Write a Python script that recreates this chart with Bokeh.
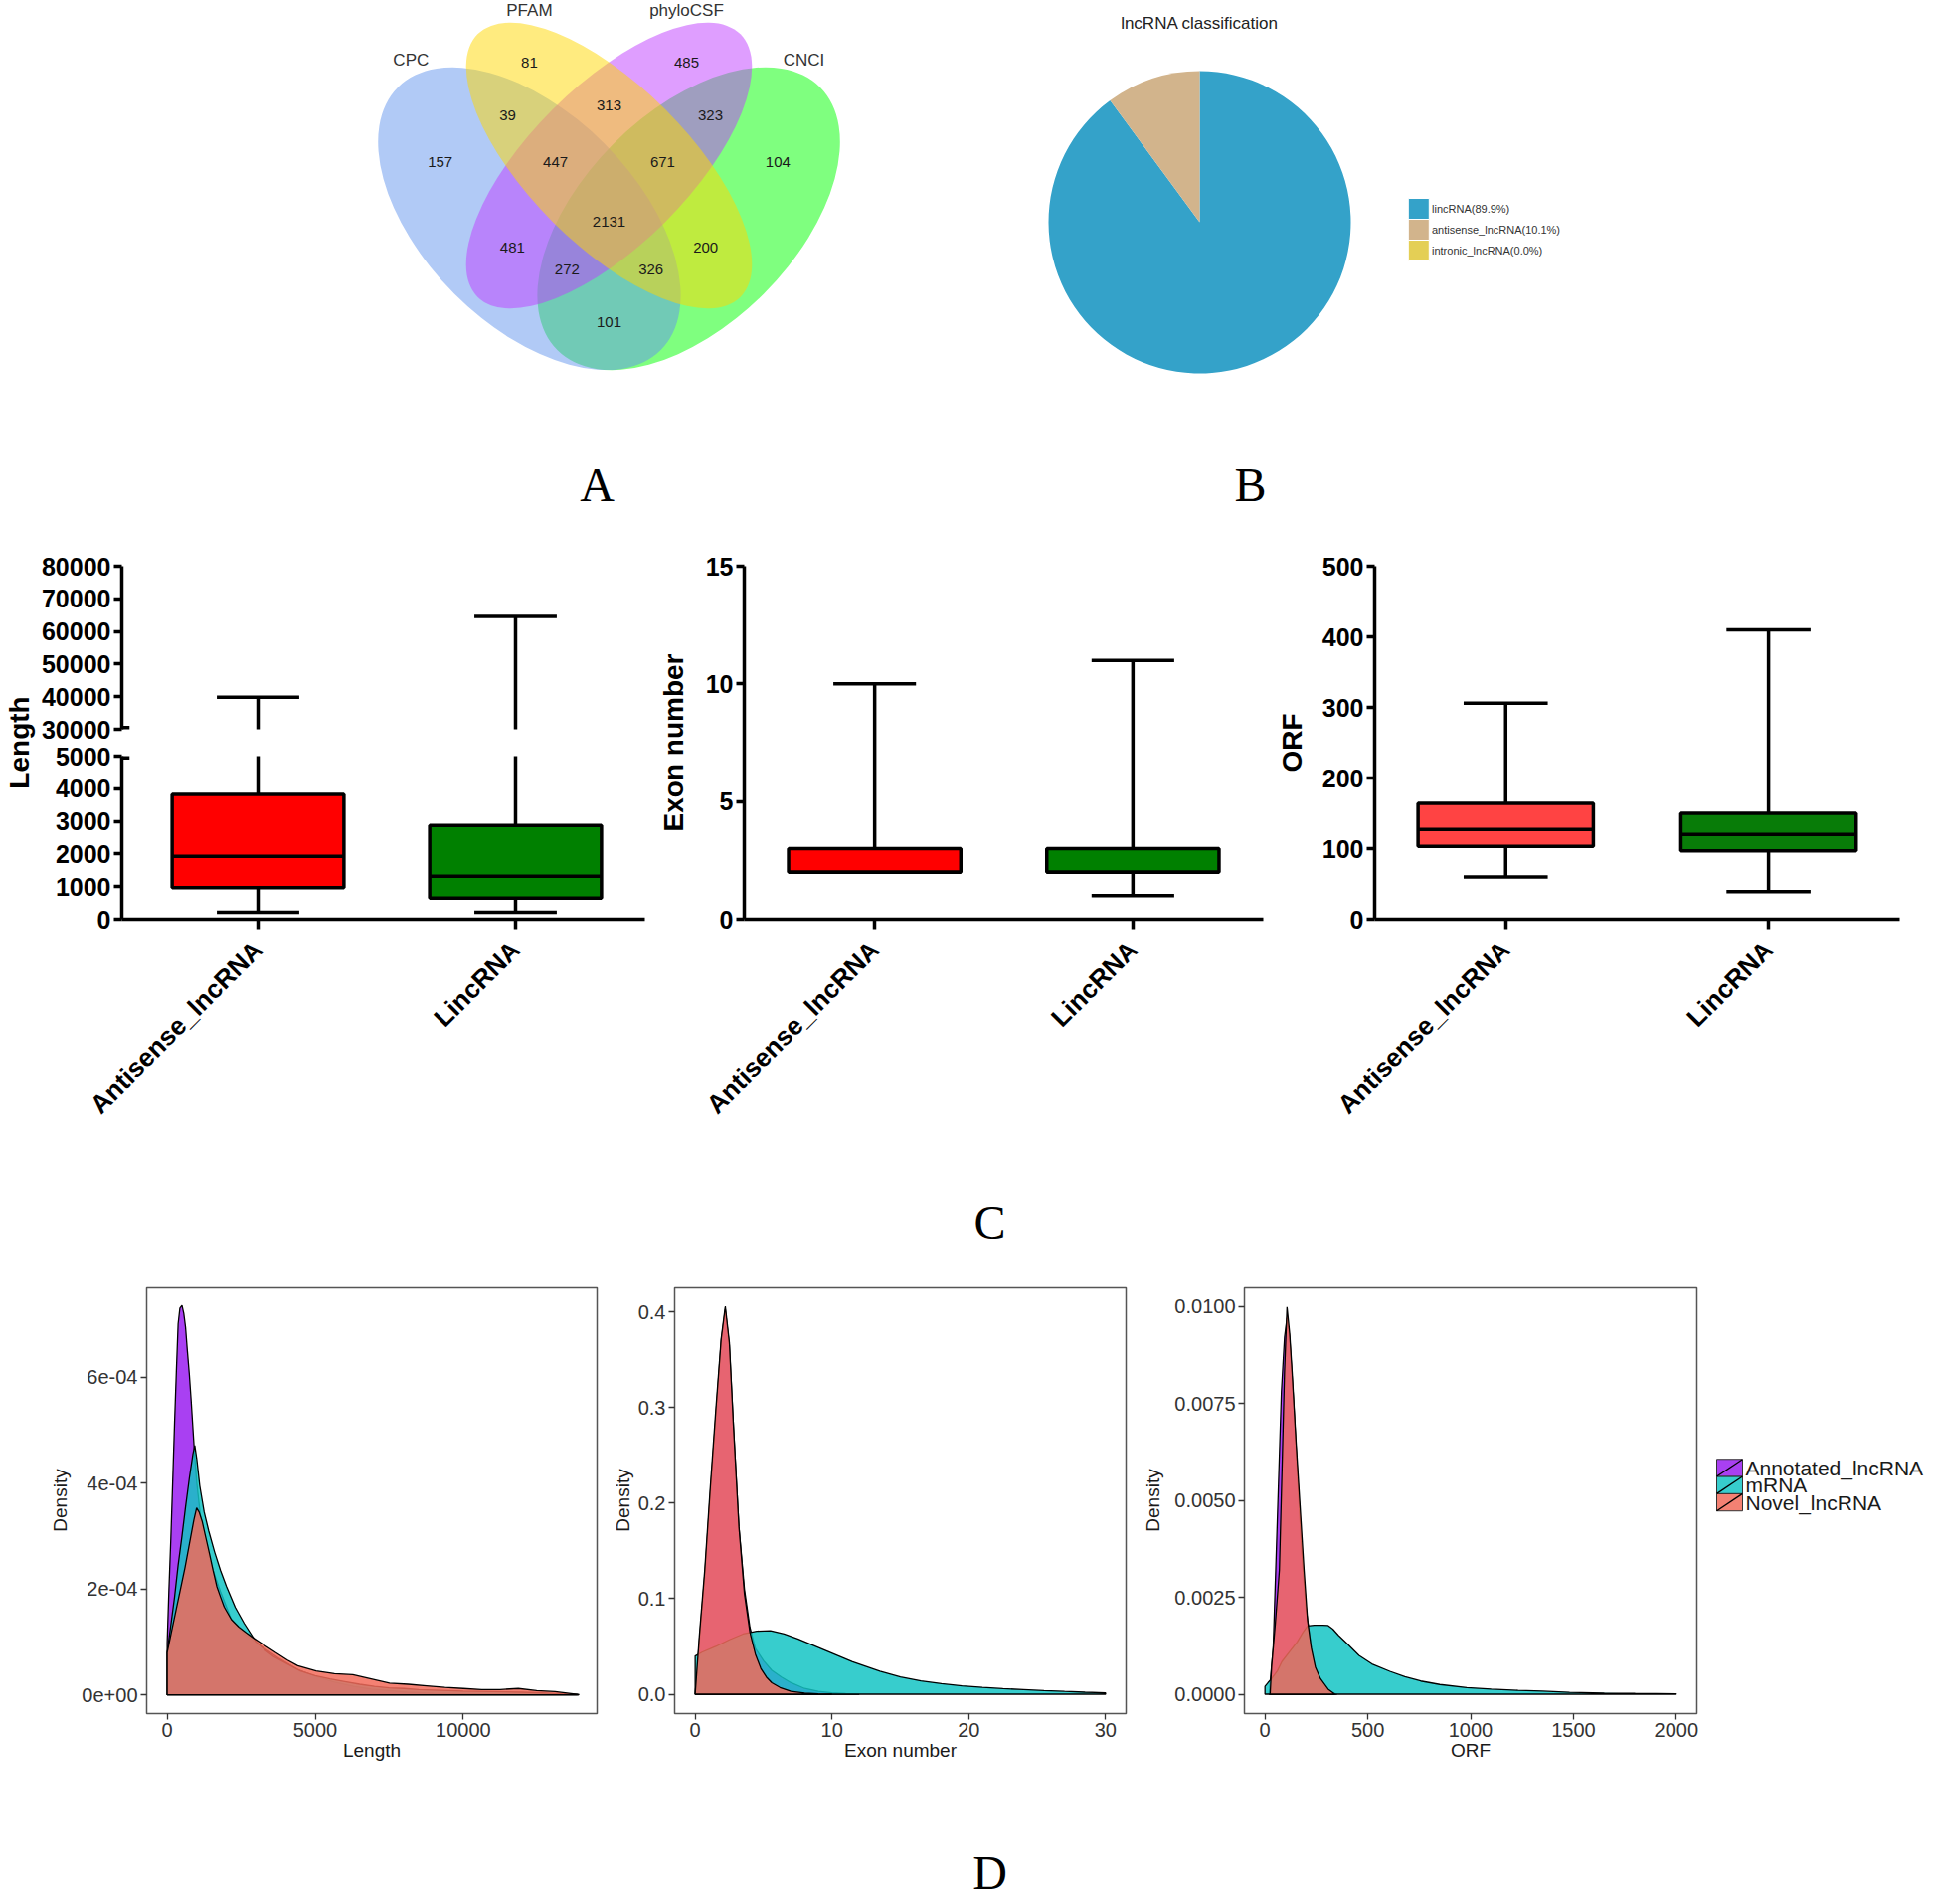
import math
import numpy as np
from bokeh.plotting import figure
from bokeh.layouts import row, column
from bokeh.models import Range1d, FixedTicker, ColumnDataSource
from bokeh.core.properties import value
from bokeh.embed import file_html
from bokeh.resources import INLINE

SANS = "Liberation Sans"
SERIF = "Liberation Serif"

# ======================= DATA =======================
# Panel A : Venn diagram
venn_sets = ["CPC", "PFAM", "phyloCSF", "CNCI"]
venn_counts = [81, 485, 39, 313, 323, 157, 447, 671, 104, 2131, 481, 200, 272, 326, 101]

# Panel B : pie
pie_labels = ["lincRNA(89.9%)", "antisense_lncRNA(10.1%)", "intronic_lncRNA(0.0%)"]
pie_values = [89.9, 10.1, 0.0]

# Panel C : box plots
box_categories = ["Antisense_lncRNA", "LincRNA"]
length_min = [210, 210]
length_q1 = [970, 645]
length_median = [1930, 1320]
length_q3 = [3830, 2875]
length_max = [39800, 64600]

exon_min = [2, 1]
exon_q1 = [2, 2]
exon_median = [2, 2]
exon_q3 = [3, 3]
exon_max = [10, 11]

orf_min = [60, 39]
orf_q1 = [103, 97]
orf_median = [127, 120]
orf_q3 = [164, 150]
orf_max = [306, 410]

# Panel D : density curves
density_groups = ["Annotated_lncRNA", "mRNA", "Novel_lncRNA"]

len_x_annot = [0, 60, 125, 185, 250, 310, 370, 430, 500, 560, 620, 680, 745, 810, 870, 930, 1000, 1100, 1180, 1300,
               1550, 1800, 2170, 2600, 3170, 3800, 4400, 5000, 5650, 6300, 6900, 7500, 8100, 9000, 10000, 11000, 12000, 13000, 13900]
len_d_annot = [0.98e-4, 2.0e-4, 2.97e-4, 4.0e-4, 5.14e-4, 6.1e-4, 7.0e-4, 7.3e-4, 7.35e-4, 7.2e-4, 6.94e-4, 6.5e-4, 6.07e-4,
               5.55e-4, 5.02e-4, 4.5e-4, 4.0e-4, 3.5e-4, 3.09e-4, 2.8e-4, 2.35e-4, 1.95e-4, 1.42e-4, 1.15e-4, 0.92e-4,
               0.68e-4, 0.48e-4, 0.35e-4, 0.24e-4, 0.16e-4, 0.11e-4, 0.08e-4, 0.05e-4, 0.03e-4, 0.02e-4, 0.01e-4, 0.01e-4, 0.005e-4, 0.0]
len_x_mrna = [0, 120, 250, 370, 500, 620, 750, 870, 932, 1000, 1100, 1250, 1400, 1600, 1800, 2000, 2300, 2600, 3000, 3300,
              3600, 4000, 4500, 5000, 5500, 6000, 6500, 7000, 7500, 8000, 8500, 9000, 10000, 11000, 12000, 12500, 13000, 13900]
len_d_mrna = [0.8e-4, 1.3e-4, 1.85e-4, 2.45e-4, 3.0e-4, 3.55e-4, 4.1e-4, 4.55e-4, 4.71e-4, 4.45e-4, 3.95e-4, 3.45e-4, 3.1e-4,
              2.7e-4, 2.35e-4, 2.05e-4, 1.65e-4, 1.35e-4, 1.0e-4, 0.85e-4, 0.72e-4, 0.6e-4, 0.45e-4, 0.36e-4, 0.3e-4,
              0.25e-4, 0.2e-4, 0.16e-4, 0.13e-4, 0.12e-4, 0.1e-4, 0.09e-4, 0.07e-4, 0.06e-4, 0.05e-4, 0.04e-4, 0.03e-4, 0.01e-4]
len_x_novel = [0, 150, 300, 450, 600, 750, 900, 994, 1080, 1180, 1300, 1430, 1550, 1680, 1800, 1925, 2170, 2420, 2670, 2920,
               3170, 3660, 4050, 4410, 5030, 5650, 6270, 6890, 7510, 8140, 8760, 9380, 10000, 10620, 11240, 11860, 12480, 13100, 13850]
len_d_novel = [0.8e-4, 1.2e-4, 1.6e-4, 2.0e-4, 2.4e-4, 2.85e-4, 3.3e-4, 3.53e-4, 3.45e-4, 3.28e-4, 2.98e-4, 2.66e-4, 2.35e-4,
               2.04e-4, 1.85e-4, 1.66e-4, 1.42e-4, 1.28e-4, 1.17e-4, 1.07e-4, 0.98e-4, 0.8e-4, 0.66e-4, 0.55e-4, 0.45e-4,
               0.4e-4, 0.38e-4, 0.3e-4, 0.22e-4, 0.2e-4, 0.17e-4, 0.14e-4, 0.12e-4, 0.1e-4, 0.1e-4, 0.12e-4, 0.08e-4, 0.06e-4, 0.01e-4]

exon_x_annot = [0, 0.3, 0.7, 1.1, 1.5, 1.9, 2.2, 2.5, 2.8, 3.2, 3.6, 4.0, 4.4, 5.0, 5.6, 6.3, 7.0, 8.0, 9.0, 10.0, 11.0, 12.0]
exon_d_annot = [0.0, 0.055, 0.125, 0.21, 0.29, 0.37, 0.403, 0.365, 0.28, 0.175, 0.11, 0.07, 0.048, 0.035, 0.025, 0.018,
                0.012, 0.006, 0.003, 0.0015, 0.0005, 0.0]
exon_x_mrna = [0, 0.5, 1.5, 2.5, 3.5, 4.5, 5.5, 6.5, 7.5, 8.5, 9.5, 10.5, 11.5, 12.5, 13.5, 15, 16.5, 18, 19.5, 21, 22.5,
               24, 25.5, 27, 28.5, 30]
exon_d_mrna = [0.04, 0.044, 0.05, 0.057, 0.063, 0.066, 0.0665, 0.063, 0.058, 0.052, 0.046, 0.04, 0.034, 0.029, 0.024,
               0.018, 0.014, 0.011, 0.0088, 0.0072, 0.0058, 0.0048, 0.0038, 0.0029, 0.0021, 0.0014]
exon_x_novel = [0, 0.3, 0.7, 1.1, 1.5, 1.9, 2.2, 2.5, 2.8, 3.2, 3.6, 4.0, 4.4, 4.8, 5.2, 5.6, 6.2, 7.0, 8.0, 9.0, 10.0]
exon_d_novel = [0.0, 0.06, 0.13, 0.216, 0.296, 0.372, 0.406, 0.368, 0.28, 0.175, 0.105, 0.065, 0.042, 0.027, 0.018,
                0.012, 0.007, 0.003, 0.0012, 0.0004, 0.0]

orf_x_annot = [20, 40, 60, 80, 95, 107, 120, 140, 160, 180, 200, 230, 260, 300, 350]
orf_d_annot = [0, 0.0012, 0.0045, 0.0078, 0.0092, 0.0097, 0.0092, 0.0075, 0.0055, 0.0036, 0.0022, 0.001, 0.0004, 0.0001, 0]
orf_x_mrna = [0, 15, 32, 60, 82, 120, 157, 185, 207, 240, 280, 307, 330, 357, 400, 457, 520, 607, 680, 757, 850, 981,
              1100, 1231, 1350, 1481, 1650, 1800, 2000]
orf_d_mrna = [0.0002, 0.0003, 0.0004, 0.0006, 0.00084, 0.0011, 0.00135, 0.0016, 0.00176, 0.00178, 0.00178, 0.00177,
              0.00168, 0.00152, 0.0013, 0.001, 0.00078, 0.00059, 0.00045, 0.00034, 0.00025, 0.00017, 0.00013, 0.0001,
              0.00008, 0.00005, 0.00003, 0.00002, 0.00001]
orf_x_novel = [25, 32, 50, 70, 85, 95, 107, 120, 132, 150, 170, 190, 207, 225, 245, 270, 307, 340]
orf_d_novel = [0, 0.0007, 0.0018, 0.0032, 0.0062, 0.0083, 0.00998, 0.0093, 0.0083, 0.0066, 0.0049, 0.0032, 0.0019,
               0.0012, 0.0007, 0.0004, 0.00013, 0]

# ======================= STYLE / GEOMETRY =======================
# ellipse drawing order: CNCI, CPC, phyloCSF, PFAM
venn_draw_order = [3, 0, 2, 1]
venn_colors = ["#6495ed", "#ffd700", "#bf3eff", "#00ff00"]
venn_cx = [0.35, 0.5, 0.5, 0.65]
venn_cy = [0.47, 0.57, 0.57, 0.47]
venn_a = [0.35, 0.35, 0.35, 0.35]
venn_b = [0.20, 0.15, 0.15, 0.20]
venn_rot = [-45, -45, 45, 45]
venn_label_u = [0.127, 0.350, 0.646, 0.867]
venn_label_v = [0.769, 0.862, 0.862, 0.769]
venn_count_u = [0.350, 0.646, 0.309, 0.500, 0.691, 0.182, 0.399, 0.601, 0.818, 0.500, 0.318, 0.682, 0.421, 0.579, 0.500]
venn_count_v = [0.763, 0.763, 0.664, 0.684, 0.664, 0.576, 0.576, 0.576, 0.576, 0.465, 0.416, 0.416, 0.375, 0.375, 0.276]

pie_colors = ["#34a2c9", "#d2b48c", "#e4cf55"]
density_colors = ["#9a1ff0", "#14c4c4", "#f26b5b"]
box_colors_a = ["#ff0000", "#008000"]
box_colors_b = ["#ff4343", "#087c08"]

TOTAL_W = 1938


def blank(w, h, xr, yr):
    p = figure(width=w, height=h, x_range=Range1d(*xr), y_range=Range1d(*yr),
               output_backend="svg", toolbar_location=None,
               x_axis_location=None, y_axis_location=None,
               min_border_left=0, min_border_right=0, min_border_top=0, min_border_bottom=0)
    p.outline_line_color = None
    p.grid.visible = False
    return p


# ---------------- Panel A ----------------
venn = blank(968, 540, (-0.6461, 1.1667), (-0.1303, 0.8809))
for i in venn_draw_order:
    venn.ellipse(x=[venn_cx[i]], y=[venn_cy[i]], width=[2 * venn_a[i]], height=[2 * venn_b[i]],
                 angle=[math.radians(venn_rot[i])], fill_color=venn_colors[i], fill_alpha=0.5, line_color=None)
venn.text(x=venn_count_u, y=venn_count_v, text=[str(c) for c in venn_counts], text_font=value(SANS),
          text_font_size=value("15px"), text_align="center", text_baseline="middle", text_color="#1a1a1a")
venn.text(x=venn_label_u, y=venn_label_v, text=venn_sets, text_font=value(SANS),
          text_font_size=value("17px"), text_align="center", text_baseline="middle", text_color="#333333")
venn.text(x=[0.4775], y=[-0.031], text=["A"], text_font=value(SERIF), text_font_size=value("48px"),
          text_align="center", text_baseline="middle", text_color="black")

# ---------------- Panel B ----------------
pie = blank(970, 540, (-238, 732), (-317, 223))
total = float(sum(pie_values))
cum = np.concatenate([[0.0], np.cumsum(pie_values)]) / total
starts = math.pi / 2 - 2 * math.pi * cum[:-1]
ends = math.pi / 2 - 2 * math.pi * cum[1:]
keep = [i for i, v in enumerate(pie_values) if v > 0]
pie.wedge(x=0, y=0, radius=152, start_angle=[starts[i] for i in keep], end_angle=[ends[i] for i in keep],
          direction="clock", fill_color=[pie_colors[i] for i in keep], line_color=None)
pie.text(x=[0], y=[200], text=["lncRNA classification"], text_font=value(SANS), text_font_size=value("17px"),
         text_align="center", text_baseline="middle", text_color="#222222")
leg_y = [13.5 - 21 * i for i in range(len(pie_labels))]
pie.rect(x=[220.3] * len(pie_labels), y=leg_y, width=21, height=21, fill_color=pie_colors,
         line_color="white", line_width=1)
pie.text(x=[233.5] * len(pie_labels), y=leg_y, text=pie_labels, text_font=value(SANS), text_font_size=value("11px"),
         text_align="left", text_baseline="middle", text_color="#333333")
pie.text(x=[51], y=[-264], text=["B"], text_font=value(SERIF), text_font_size=value("48px"),
         text_align="center", text_baseline="middle", text_color="black")


# ---------------- Panel C ----------------
def box_figure(w, h, borders, xr, yr, yticks, show_x, ylabel=None, ylabel_standoff=12):
    l, r, t, b = borders
    p = figure(width=w, height=h, x_range=Range1d(*xr), y_range=Range1d(*yr),
               output_backend="svg", toolbar_location=None,
               min_border_left=l, min_border_right=r, min_border_top=t, min_border_bottom=b)
    p.xgrid.visible = False
    p.ygrid.visible = False
    p.outline_line_color = None
    p.axis.axis_line_width = 3.5
    p.axis.axis_line_color = "black"
    p.axis.major_tick_line_width = 3.5
    p.axis.major_tick_line_color = "black"
    p.axis.major_tick_in = 0
    p.axis.minor_tick_line_color = None
    p.axis.major_label_text_font = SANS
    p.axis.major_label_text_font_style = "bold"
    p.axis.major_label_text_font_size = "25px"
    p.axis.major_label_text_color = "black"
    p.yaxis.ticker = FixedTicker(ticks=yticks)
    p.yaxis.major_tick_out = 8
    p.yaxis.major_label_standoff = 3
    if show_x:
        p.xaxis.ticker = FixedTicker(ticks=[i + 1 for i in range(len(box_categories))])
        p.xaxis.major_label_overrides = {i + 1: c for i, c in enumerate(box_categories)}
        p.xaxis.major_label_orientation = math.pi / 4
        p.xaxis.major_label_text_font_size = "26px"
        p.xaxis.major_tick_out = 10
        p.xaxis.major_label_standoff = 16
    else:
        p.xaxis.visible = False
    if ylabel:
        p.yaxis.axis_label = ylabel
        p.yaxis.axis_label_text_font = SANS
        p.yaxis.axis_label_text_font_style = "bold"
        p.yaxis.axis_label_text_font_size = "28px"
        p.yaxis.axis_label_text_color = "black"
        p.yaxis.axis_label_standoff = ylabel_standoff
    return p


def draw_boxes(p, mins, q1, med, q3, maxs, colors, bw=0.667, cw=0.32, with_box=True):
    xs = [i + 1 for i in range(len(box_categories))]
    src = ColumnDataSource(dict(
        x=xs, lo=mins, q1=q1, med=med, q3=q3, hi=maxs, color=colors,
        b0=[x - bw / 2 for x in xs], b1=[x + bw / 2 for x in xs],
        c0=[x - cw / 2 for x in xs], c1=[x + cw / 2 for x in xs]))
    kw = dict(line_color="black", line_width=3.5, source=src)
    p.segment(x0="x", y0="q3", x1="x", y1="hi", **kw)
    p.segment(x0="c0", y0="hi", x1="c1", y1="hi", **kw)
    if with_box:
        p.segment(x0="x", y0="lo", x1="x", y1="q1", **kw)
        p.segment(x0="c0", y0="lo", x1="c1", y1="lo", **kw)
        p.vbar(x="x", width=bw, bottom="q1", top="q3", fill_color="color", **kw)
        p.segment(x0="b0", y0="med", x1="b1", y1="med", **kw)


# "Length" title shared by the two halves of the broken axis
len_lab = figure(width=38, height=640, x_range=Range1d(0, 1), y_range=Range1d(0, 1),
                 output_backend="svg", toolbar_location=None, x_axis_location=None,
                 min_border_left=0, min_border_right=0, min_border_top=29, min_border_bottom=256)
len_lab.outline_line_color = None
len_lab.grid.visible = False
len_lab.yaxis.ticker = FixedTicker(ticks=[])
len_lab.yaxis.axis_line_color = None
len_lab.yaxis.major_tick_line_color = None
len_lab.yaxis.minor_tick_line_color = None
len_lab.yaxis.major_label_standoff = 0
len_lab.yaxis.axis_label = "Length"
len_lab.yaxis.axis_label_text_font = SANS
len_lab.yaxis.axis_label_text_font_style = "bold"
len_lab.yaxis.axis_label_text_font_size = "28px"
len_lab.yaxis.axis_label_text_color = "black"
len_lab.yaxis.axis_label_standoff = 0

C1_X = (0.471, 2.502)
c1_up = box_figure(617, 207, (84, 7, 29, 14), C1_X, (30000, 80000),
                   [30000, 40000, 50000, 60000, 70000, 80000], False)
draw_boxes(c1_up, length_min, length_q1, length_median, length_q3, length_max, box_colors_a, with_box=False)
# axis-break marker (bottom end of the upper segment)
c1_up.segment(x0=[C1_X[0]], y0=[30000], x1=[C1_X[0] + 0.03], y1=[30000], line_color="black", line_width=7)

c1_lo = box_figure(617, 433, (84, 7, 13, 256), C1_X, (0, 5000),
                   [0, 1000, 2000, 3000, 4000, 5000], True)
draw_boxes(c1_lo, length_min, length_q1, length_median, length_q3, length_max, box_colors_a)
# axis-break marker (top end of the lower segment)
c1_lo.segment(x0=[C1_X[0]], y0=[5000], x1=[C1_X[0] + 0.03], y1=[5000], line_color="black", line_width=7)

c2 = box_figure(621, 640, (93, 6, 29, 256), (0.495, 2.505), (0, 15), [0, 5, 10, 15], True,
                ylabel="Exon number", ylabel_standoff=14)
draw_boxes(c2, exon_min, exon_q1, exon_median, exon_q3, exon_max, box_colors_a)

c3 = box_figure(660, 640, (106, 26, 22, 256), (0.5015, 2.499), (0, 500), [0, 100, 200, 300, 400, 500], True,
                ylabel="ORF", ylabel_standoff=12)
draw_boxes(c3, orf_min, orf_q1, orf_median, orf_q3, orf_max, box_colors_b)

c_lab = blank(TOTAL_W, 90, (0, TOTAL_W), (90, 0))
c_lab.text(x=[995], y=[49], text=["C"], text_font=value(SERIF), text_font_size=value("48px"),
           text_align="center", text_baseline="middle", text_color="black")


# ---------------- Panel D ----------------
def dens_figure(w, h, borders, xr, yr, xticks, yticks, ylab_over, xlabel, ylab_standoff):
    l, r, t, b = borders
    p = figure(width=w, height=h, x_range=Range1d(*xr), y_range=Range1d(*yr),
               output_backend="svg", toolbar_location=None,
               min_border_left=l, min_border_right=r, min_border_top=t, min_border_bottom=b)
    p.xgrid.visible = False
    p.ygrid.visible = False
    p.outline_line_color = "#555555"
    p.outline_line_width = 1.5
    p.xaxis.ticker = FixedTicker(ticks=xticks)
    p.yaxis.ticker = FixedTicker(ticks=yticks)
    p.yaxis.major_label_overrides = ylab_over
    p.axis.axis_line_color = None
    p.axis.major_tick_line_color = "#333333"
    p.axis.major_tick_line_width = 1.3
    p.axis.major_tick_out = 6
    p.axis.major_tick_in = 0
    p.axis.minor_tick_line_color = None
    p.axis.major_label_text_font = SANS
    p.axis.major_label_text_font_size = "20px"
    p.axis.major_label_text_color = "#333333"
    p.axis.major_label_standoff = 3
    p.axis.axis_label_text_font = SANS
    p.axis.axis_label_text_font_size = "19px"
    p.axis.axis_label_text_font_style = "normal"
    p.axis.axis_label_text_color = "#1a1a1a"
    p.xaxis.axis_label = xlabel
    p.yaxis.axis_label = "Density"
    p.xaxis.axis_label_standoff = 0
    p.yaxis.axis_label_standoff = ylab_standoff
    return p


def draw_dens(p, series):
    for (xs, ds), col in zip(series, density_colors):
        px = list(xs) + [xs[-1], xs[0]]
        py = list(ds) + [0, 0]
        p.patch(px, py, fill_color=col, fill_alpha=0.85, line_color="black", line_width=1.3)


d1 = dens_figure(612, 520, (147, 12, 23, 65), (-692, 14520), (-3.54e-5, 7.70e-4),
                 [0, 5000, 10000], [0, 2e-4, 4e-4, 6e-4],
                 {0: "0e+00", 2e-4: "2e-04", 4e-4: "4e-04", 6e-4: "6e-04"}, "Length", 8)
draw_dens(d1, [(len_x_annot, len_d_annot), (len_x_mrna, len_d_mrna), (len_x_novel, len_d_novel)])

d2 = dens_figure(533, 520, (65, 13, 24, 67), (-1.5, 31.5), (-0.0203, 0.4263),
                 [0, 10, 20, 30], [0, 0.1, 0.2, 0.3, 0.4],
                 {0: "0.0", 0.1: "0.1", 0.2: "0.2", 0.3: "0.3", 0.4: "0.4"}, "Exon number", 2)
draw_dens(d2, [(exon_x_annot, exon_d_annot), (exon_x_mrna, exon_d_mrna), (exon_x_novel, exon_d_novel)])

d3 = dens_figure(571, 520, (106, 10, 22, 64), (-100, 2100), (-0.0005, 0.0105),
                 [0, 500, 1000, 1500, 2000], [0, 0.0025, 0.005, 0.0075, 0.01],
                 {0: "0.0000", 0.0025: "0.0025", 0.005: "0.0050", 0.0075: "0.0075", 0.01: "0.0100"}, "ORF", 8)
draw_dens(d3, [(orf_x_annot, orf_d_annot), (orf_x_mrna, orf_d_mrna), (orf_x_novel, orf_d_novel)])

dleg = blank(226, 520, (0, 226), (520, 0))
key_y = [220.5 + 21 * i for i in range(len(density_groups))]
dleg.rect(x=[23] * 3, y=key_y, width=26, height=21, fill_color=density_colors, fill_alpha=0.85,
          line_color="#333333", line_width=1)
dleg.segment(x0=[10] * 3, y0=[y + 10.5 for y in key_y], x1=[36] * 3, y1=[y - 10.5 for y in key_y],
             line_color="black", line_width=1.3)
dleg.text(x=[39] * 3, y=key_y, text=density_groups, text_font=value(SANS), text_font_size=value("21px"),
          text_align="left", text_baseline="middle", text_color="#1a1a1a")

d_lab = blank(TOTAL_W, 125, (0, TOTAL_W), (125, 0))
d_lab.text(x=[995], y=[93], text=["D"], text_font=value(SERIF), text_font_size=value("48px"),
           text_align="center", text_baseline="middle", text_color="black")

layout = column(
    row(venn, pie),
    row(len_lab, column(c1_up, c1_lo), c2, c3),
    c_lab,
    row(d1, d2, d3, dleg),
    d_lab,
)

open("out.html", "w").write(file_html(layout, INLINE, title="lncRNA figure"))
